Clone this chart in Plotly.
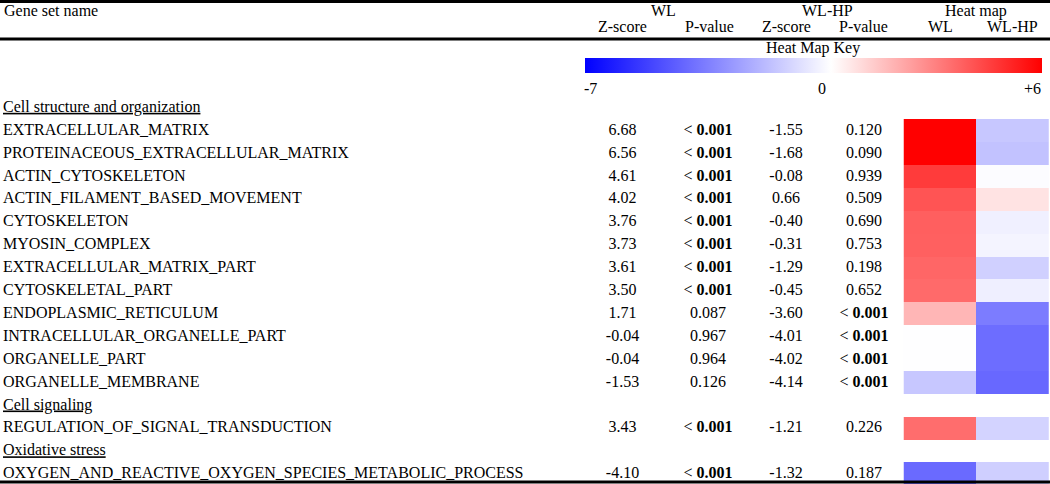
import plotly.graph_objects as go

# table data
sections = ["Cell structure and organization", "Cell signaling", "Oxidative stress"]
section_sizes = [12, 1, 1]
genes = ["EXTRACELLULAR_MATRIX", "PROTEINACEOUS_EXTRACELLULAR_MATRIX", "ACTIN_CYTOSKELETON",
         "ACTIN_FILAMENT_BASED_MOVEMENT", "CYTOSKELETON", "MYOSIN_COMPLEX",
         "EXTRACELLULAR_MATRIX_PART", "CYTOSKELETAL_PART", "ENDOPLASMIC_RETICULUM",
         "INTRACELLULAR_ORGANELLE_PART", "ORGANELLE_PART", "ORGANELLE_MEMBRANE",
         "REGULATION_OF_SIGNAL_TRANSDUCTION",
         "OXYGEN_AND_REACTIVE_OXYGEN_SPECIES_METABOLIC_PROCESS"]
wl_z = [6.68, 6.56, 4.61, 4.02, 3.76, 3.73, 3.61, 3.50, 1.71, -0.04, -0.04, -1.53, 3.43, -4.10]
wl_p = ["<0.001"] * 8 + ["0.087", "0.967", "0.964", "0.126", "<0.001", "<0.001"]
hp_z = [-1.55, -1.68, -0.08, 0.66, -0.40, -0.31, -1.29, -0.45, -3.60, -4.01, -4.02, -4.14, -1.21, -1.32]
hp_p = ["0.120", "0.090", "0.939", "0.509", "0.690", "0.753", "0.198", "0.652",
        "<0.001", "<0.001", "<0.001", "<0.001", "0.226", "0.187"]
key_min, key_mid, key_max = -7, 0, 6

FONT = "Liberation Serif"
W, H = 1050, 484
ROW0, ROWH = 107.8, 22.9   # pixel centre of first row, row pitch


def fmt_p(p):
    if p.startswith("<"):
        return "< <b>" + p[1:] + "</b>"
    return p


# lay rows out: section header then its genes
rows_y, hdr_y = [], []
k = 0
for s, n in zip(sections, section_sizes):
    hdr_y.append(k)
    k += 1
    for _ in range(n):
        rows_y.append(k)
        k += 1
n_rows = k

z = [[None, None] for _ in range(n_rows)]
for i, r in enumerate(rows_y):
    z[r] = [wl_z[i], hp_z[i]]

fig = go.Figure()

fig.add_trace(go.Heatmap(
    x=[940, 1012.5], y=list(range(n_rows)), z=z,
    zmin=key_min, zmax=key_max,
    colorscale=[[0, "rgb(0,0,255)"], [(key_mid - key_min) / (key_max - key_min), "rgb(255,255,255)"],
                [1, "rgb(255,0,0)"]],
    hoverongaps=False,
    colorbar=dict(orientation="h", lenmode="pixels", len=457, thickness=15,
                  x=813.5 / W, xanchor="center", y=1 - 58 / H, yanchor="top",
                  xpad=0, ypad=0, outlinewidth=0, showticklabels=False, ticks=""),
))

txt = dict(mode="text", textfont=dict(family=FONT, size=16, color="black"),
           hoverinfo="skip", showlegend=False)
fig.add_trace(go.Scatter(x=[3] * len(genes), y=rows_y, text=genes,
                         textposition="middle right", **txt))
fig.add_trace(go.Scatter(x=[3] * len(sections), y=hdr_y,
                         text=["<u>" + s + "</u>" for s in sections],
                         textposition="middle right", **txt))
fig.add_trace(go.Scatter(x=[622.5] * len(wl_z), y=rows_y, text=[f"{v:.2f}" for v in wl_z],
                         textposition="middle center", **txt))
fig.add_trace(go.Scatter(x=[708] * len(wl_p), y=rows_y, text=[fmt_p(p) for p in wl_p],
                         textposition="middle center", **txt))
fig.add_trace(go.Scatter(x=[786] * len(hp_z), y=rows_y, text=[f"{v:.2f}" for v in hp_z],
                         textposition="middle center", **txt))
fig.add_trace(go.Scatter(x=[864] * len(hp_p), y=rows_y, text=[fmt_p(p) for p in hp_p],
                         textposition="middle center", **txt))


def ann(x, py, s, anchor="center"):
    fig.add_annotation(x=x, y=1 - py / H, xref="x", yref="paper", text=s, showarrow=False,
                       xanchor=anchor, yanchor="middle",
                       font=dict(family=FONT, size=16, color="black"))


ann(2, 11, "Gene set name", "left")
ann(663, 11, "WL")
ann(827, 11, "WL-HP")
ann(976, 11, "Heat map")
ann(622.5, 27, "Z-score")
ann(709, 27, "P-value")
ann(786, 27, "Z-score")
ann(863.5, 27, "P-value")
ann(940, 27, "WL")
ann(1012, 27, "WL-HP")
ann(813, 48, "Heat Map Key")
ann(590, 88, str(key_min))
ann(822, 88, str(key_mid))
ann(1032, 88, "+" + str(key_max))

for py in [1.5, 39, 482]:
    fig.add_shape(type="line", xref="paper", yref="paper", x0=0, x1=1, y0=1 - py / H, y1=1 - py / H,
                  line=dict(color="black", width=3))

fig.update_layout(
    width=W, height=H, margin=dict(l=0, r=0, t=0, b=0),
    plot_bgcolor="white", paper_bgcolor="white", showlegend=False,
    xaxis=dict(range=[0, W], visible=False, fixedrange=True),
    yaxis=dict(range=[(H - ROW0) / ROWH, -ROW0 / ROWH], visible=False, fixedrange=True),
)

# page body has a default 8px margin; drop it so the figure sits at the window corner
fig.write_html("out.html", config={"displayModeBar": False},
               post_script="document.body.style.margin='0';")
